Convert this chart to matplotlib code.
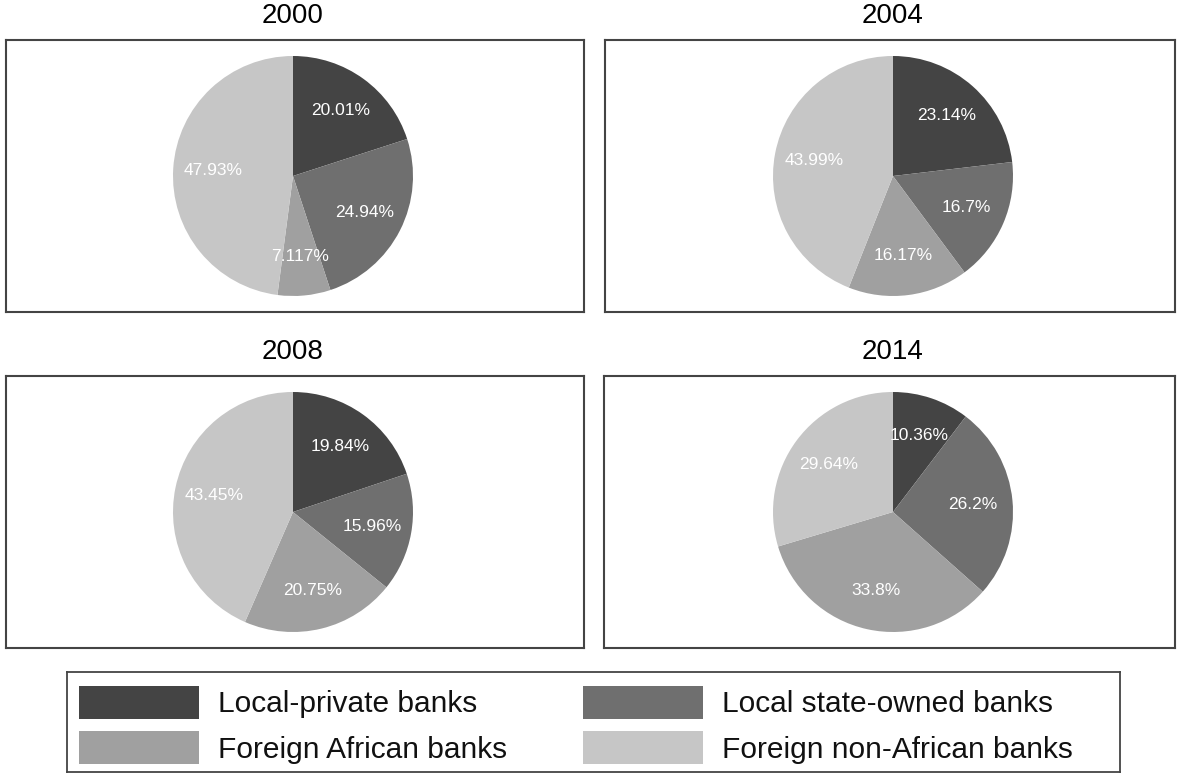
import matplotlib
matplotlib.use("Agg")
import matplotlib.pyplot as plt
from matplotlib.patches import Rectangle
import numpy as np

plt.rcParams['font.family'] = ['Liberation Sans', 'DejaVu Sans']

categories = ["Local-private banks", "Local state-owned banks",
              "Foreign African banks", "Foreign non-African banks"]
colors = ["#444444", "#6f6f6f", "#a0a0a0", "#c6c6c6"]
years = ["2000", "2004", "2008", "2014"]
share_2000 = [20.01, 24.94, 7.117, 47.93]
share_2004 = [23.14, 16.7, 16.17, 43.99]
share_2008 = [19.84, 15.96, 20.75, 43.45]
share_2014 = [10.36, 26.2, 33.8, 29.64]
shares = [share_2000, share_2004, share_2008, share_2014]

W, H = 1180, 775
fig = plt.figure(figsize=(W / 100, H / 100), dpi=100)

# panel boxes in pixels: (left, top, right, bottom)
boxes = [(6, 40, 584, 312), (605, 40, 1175, 312),
         (6, 376, 584, 648), (604, 376, 1175, 648)]
pie_cx = [293, 893, 293, 893]
pie_cy = [176, 176, 512, 512]
R = 120.0

for i, (box, vals) in enumerate(zip(boxes, shares)):
    l, t, r, b = box
    ax = fig.add_axes([l / W, 1 - b / H, (r - l) / W, (b - t) / H])
    ax.pie(vals, colors=colors, startangle=90, counterclock=False,
           radius=1.0, wedgeprops=dict(linewidth=0))
    total = sum(vals)
    cum = 0.0
    for v in vals:
        mid = np.deg2rad(90 - (cum + v / 2) / total * 360)
        cum += v
        ax.text(0.67 * np.cos(mid), 0.67 * np.sin(mid), f"{v:.4g}%",
                ha="center", va="center", color="white", fontsize=12.5)
    ax.set_aspect("auto")
    ax.set_xlim((l - pie_cx[i]) / R, (r - pie_cx[i]) / R)
    ax.set_ylim((pie_cy[i] - b) / R, (pie_cy[i] - t) / R)
    ax.set_xticks([])
    ax.set_yticks([])
    ax.set_frame_on(True)
    for s in ax.spines.values():
        s.set_visible(True)
        s.set_color("#444444")
        s.set_linewidth(1.5)
    fig.text(pie_cx[i] / W, 1 - (t - 24) / H, years[i],
             ha="center", va="center", fontsize=20)

# legend box (pixels): left 67, top 672, right 1120, bottom 772
lx0, ly0, lx1, ly1 = 67, 672, 1120, 772
lax = fig.add_axes([lx0 / W, 1 - ly1 / H, (lx1 - lx0) / W, (ly1 - ly0) / H])
lax.set_xlim(0, lx1 - lx0)
lax.set_ylim(ly1 - ly0, 0)
lax.set_xticks([])
lax.set_yticks([])
for s in lax.spines.values():
    s.set_color("#444444")
    s.set_linewidth(1.3)
col_x = [12, 516]
row_y = [14, 59]
for k, (lab, c) in enumerate(zip(categories, colors)):
    row, col = divmod(k, 2)
    lax.add_patch(Rectangle((col_x[col], row_y[row]), 120, 33,
                            facecolor=c, edgecolor="none"))
    lax.text(col_x[col] + 139, row_y[row] + 26.5, lab, ha="left",
             va="baseline", fontsize=21.5, color="#111111")

fig.savefig("out.png", dpi=100, facecolor="white")
